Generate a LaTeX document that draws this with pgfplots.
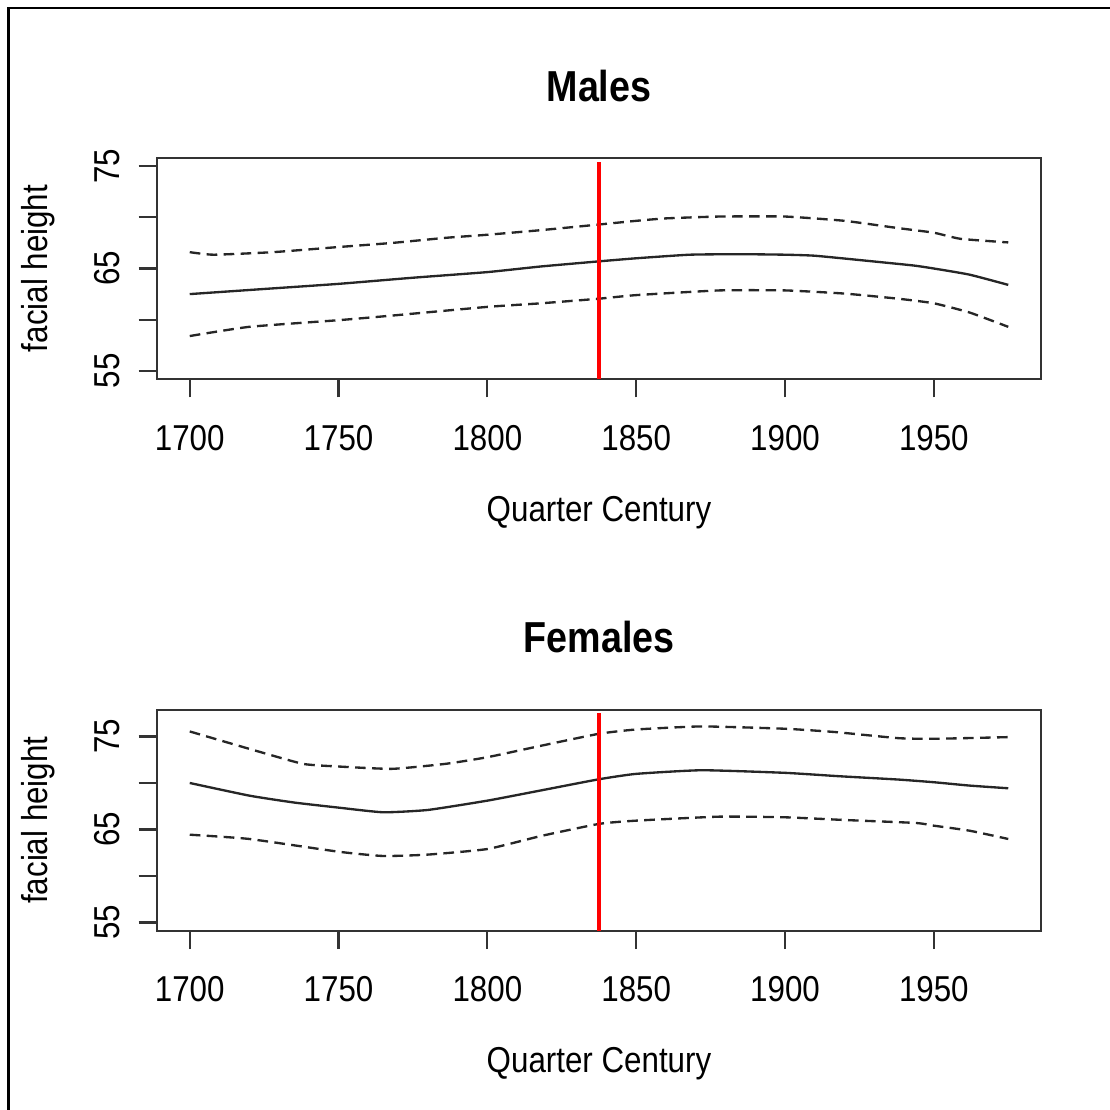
\documentclass[border=0pt]{standalone}
\usepackage{pgfplots}
\pgfplotsset{compat=1.18}
\usepackage{fontspec}
\setmainfont{Liberation Sans}[FakeStretch=0.87]

\pgfplotstableread{
x y
1700 62.5
1725 63.0
1750 63.5
1775 64.1
1800 64.65
1818 65.2
1837.5 65.7
1850 66.0
1868 66.35
1885 66.4
1900 66.35
1910 66.25
1926 65.8
1943 65.3
1950 65.0
1962 64.4
1975 63.4
}\mfit
\pgfplotstableread{
x y
1700 66.6
1708 66.35
1728 66.6
1750 67.1
1768 67.5
1786 68.0
1800 68.3
1818 68.75
1837.5 69.3
1850 69.66
1860 69.9
1878 70.08
1900 70.08
1920 69.66
1938 68.95
1950 68.5
1959 67.9
1975 67.55
}\mup
\pgfplotstableread{
x y
1700 58.4
1720 59.3
1750 59.95
1768 60.4
1800 61.25
1818 61.6
1837.5 62.05
1850 62.4
1878 62.86
1900 62.86
1920 62.55
1938 62.05
1950 61.6
1962 60.7
1975 59.3
}\mlo
\pgfplotstableread{
x y
1700 70.0
1720 68.64
1735 67.9
1750 67.35
1765 66.85
1780 67.1
1800 68.1
1818 69.2
1837.5 70.4
1850 70.98
1872 71.37
1900 71.09
1918 70.73
1938 70.37
1950 70.08
1962 69.72
1975 69.43
}\ffit
\pgfplotstableread{
x y
1700 75.54
1720 73.67
1738 72.06
1750 71.77
1768 71.52
1786 72.06
1800 72.77
1818 74.0
1837.5 75.29
1850 75.75
1872 76.08
1900 75.83
1917 75.47
1938 74.82
1950 74.75
1975 74.93
}\fup
\pgfplotstableread{
x y
1700 64.44
1720 63.98
1750 62.61
1765 62.15
1780 62.3
1800 62.9
1818 64.3
1837.5 65.6
1850 65.95
1878 66.38
1900 66.31
1920 66.02
1944 65.7
1950 65.41
1962 64.87
1975 63.98
}\flo

\pgfplotsset{
  rstyle/.style={
    scale only axis, width=265.2pt, height=66.3pt,
    anchor=south west,
    xmin=1689, xmax=1986,
    xtick={1700,1750,1800,1850,1900,1950},
    xticklabels={1700,1750,1800,1850,1900,1950},
    ytick={55,60,65,70,75},
    yticklabels={55,,65,,75},
    xtick pos=left, ytick pos=left,
    tick align=outside, major tick length=5.5pt,
    tick style={black!80, line width=0.65pt},
    axis line style={black!80, line width=0.65pt},
    font=\fontsize{10.8}{12}\selectfont,
    xticklabel style={anchor=north, inner sep=0pt},
    yticklabel style={rotate=90, anchor=south, inner sep=0pt},
    xticklabel shift=8.1pt,
    yticklabel shift=5.4pt,
    xlabel={Quarter Century}, ylabel={facial height},
    xlabel style={at={(axis description cs:0.5,0)}, anchor=base, yshift=-42.6pt},
    ylabel style={at={([xshift=-32.7pt]axis description cs:0,0.5)}, anchor=base},
    title style={font=\bfseries\fontsize{13}{15}\selectfont, at={(axis description cs:0.5,1)}, anchor=base, yshift=11.1pt},
    clip=false,
  },
  fit/.style={black!85, line width=0.7pt, smooth, tension=0.3},
  band/.style={black!85, line width=0.7pt, dash pattern=on 3.2pt off 1.9pt, smooth, tension=0.3},
}

\begin{document}
\begin{tikzpicture}
\begin{axis}[rstyle, at={(47.1pt,-113.7pt)}, ymin=54.2, ymax=75.8, title={Males}]
\addplot[fit] table {\mfit};
\addplot[band] table {\mup};
\addplot[band] table {\mlo};
\addplot[red, line width=1pt] coordinates {(1837.5,54.2) (1837.5,75.4)};
\end{axis}
\begin{axis}[rstyle, at={(47.1pt,-279.2pt)}, ymin=54.12, ymax=77.88, title={Females}]
\addplot[fit] table {\ffit};
\addplot[band] table {\fup};
\addplot[band] table {\flo};
\addplot[red, line width=1pt] coordinates {(1837.5,54.12) (1837.5,77.55)};
\end{axis}
\draw[black, line width=0.75pt] (2.55pt,-340pt) -- (2.55pt,-2.35pt) -- (340pt,-2.35pt);
\pgfresetboundingbox
\path[use as bounding box] (0,0) rectangle (333pt,-333pt);
\end{tikzpicture}
\end{document}
